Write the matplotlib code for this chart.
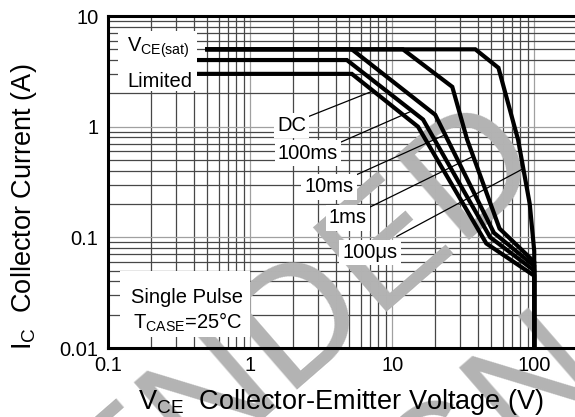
import numpy as np
import matplotlib.pyplot as plt
from matplotlib.patches import Rectangle
from matplotlib.ticker import LogLocator, NullFormatter

plt.rcParams['font.family'] = ['Liberation Sans', 'DejaVu Sans']
plt.rcParams['mathtext.fontset'] = 'custom'
plt.rcParams['mathtext.rm'] = 'Liberation Sans'
plt.rcParams['mathtext.it'] = 'Liberation Sans:italic'
plt.rcParams['mathtext.default'] = 'regular'

# safe operating area corners, collector-emitter voltage (V) / collector current (A)
dc_v = [0.42, 5.2, 15.2, 46, 100, 100]
dc_i = [3, 3, 1.0, 0.088, 0.045, 0.01]
ms100_v = [0.42, 4.8, 16.5, 49, 100, 100]
ms100_i = [4, 4, 1.16, 0.1, 0.05, 0.01]
ms10_v = [0.5, 5.2, 20.1, 52, 100, 100]
ms10_i = [5, 5, 1.28, 0.11, 0.055, 0.01]
ms1_v = [0.5, 11.9, 26.5, 33.7, 57, 100, 100]
ms1_i = [5, 5, 2.29, 0.765, 0.12, 0.06, 0.01]
us100_v = [0.5, 38.5, 56, 77, 93, 100, 100]
us100_i = [5, 5, 3.4, 0.76, 0.2, 0.075, 0.01]

curve_names = ['DC', '100ms', '10ms', '1ms', '100\u03bcs']
# voltage where each label's leader touches its curve
leader_v = [7.35, 13.8, 23.6, 37.2, 83.8]

x_ticks = [0.1, 1, 10, 100]
x_tick_labels = ['0.1', '1', '10', '100']
y_ticks = [0.01, 0.1, 1, 10]
y_tick_labels = ['0.01', '0.1', '1', '10']


def on_curve(vs, cs, v):
    # log-log interpolation along the monotonic part of a curve
    lv = np.log10(vs[:-1])
    lc = np.log10(cs[:-1])
    return 10 ** np.interp(np.log10(v), lv, lc)


fig = plt.figure(figsize=(5.75, 4.17), dpi=100)
ax = fig.add_axes([108 / 575, 69 / 417, 469 / 575, 332 / 417])
ax.set_xscale('log')
ax.set_yscale('log')
ax.set_xlim(0.1, 200)
ax.set_ylim(0.01, 10)

ax.set_xticks(x_ticks)
ax.set_xticklabels(x_tick_labels)
ax.set_yticks(y_ticks)
ax.set_yticklabels(y_tick_labels)
for axis in (ax.xaxis, ax.yaxis):
    axis.set_minor_locator(LogLocator(base=10, subs=np.arange(2, 10)))
    axis.set_minor_formatter(NullFormatter())
ax.tick_params(which='both', length=0, labelsize=14.5)
ax.tick_params(axis='x', pad=6)
ax.tick_params(axis='y', pad=7)

ax.set_axisbelow(True)
ax.grid(True, which='minor', color='#474747', lw=0.9)
ax.grid(True, which='major', color='#a0a0a0', lw=0.9)
for s in ['left', 'top', 'bottom']:
    ax.spines[s].set_linewidth(2.2)
ax.spines['right'].set_visible(False)

# watermark
wm = dict(transform=fig.transFigure, clip_on=False, zorder=1, color='#b3b3b3',
          fontsize=118, rotation=41, rotation_mode='anchor', va='baseline', ha='right')
ax.text(0.955, 0.590, 'NOT RECOMMENDED', **wm)
ax.text(1.065, 0.080, 'FOR NEW DESIGN', **wm)

curves = [(dc_v, dc_i), (ms100_v, ms100_i), (ms10_v, ms10_i),
          (ms1_v, ms1_i), (us100_v, us100_i)]
for vs, cs in curves:
    ax.plot(vs, cs, color='black', lw=3, solid_joinstyle='miter', zorder=3)

# labels with leaders
label_pos = [(0.392, 0.669), (0.4264, 0.5873), (0.4712, 0.485),
             (0.5117, 0.3916), (0.5586, 0.289)]
leader_start = [(2.56, 1.23), (4.3, 0.72), (5.67, 0.37), (6.88, 0.186), (10.8, 0.102)]
for (vs, cs), name, lv, (tx, ty), (sx, sy) in zip(curves, curve_names, leader_v,
                                                   label_pos, leader_start):
    ax.plot([sx, lv], [sy, on_curve(vs, cs, lv)], color='black', lw=0.9, zorder=2.6)
    ax.text(tx, ty, name, transform=ax.transAxes, fontsize=14.5, ha='center', va='center',
            zorder=5, bbox=dict(boxstyle='square,pad=0.15', facecolor='white', edgecolor='none'))

# VCE(sat) limited note
ax.add_patch(Rectangle((0.0213, 0.774), 0.1685, 0.181, transform=ax.transAxes,
                       facecolor='white', edgecolor='none', zorder=4))
ax.text(0.0405, 0.8916, '$V_{CE(sat)}$', transform=ax.transAxes, fontsize=14.5,
        ha='left', va='baseline', zorder=5)
ax.text(0.0405, 0.786, 'Limited', transform=ax.transAxes, fontsize=14.5,
        ha='left', va='baseline', zorder=5)

# test conditions
ax.add_patch(Rectangle((0.0256, 0.033), 0.2772, 0.1988, transform=ax.transAxes,
                       facecolor='white', edgecolor='none', zorder=4))
ax.text(0.1695, 0.1355, 'Single Pulse', transform=ax.transAxes, fontsize=14.5,
        ha='center', va='baseline', zorder=5)
ax.text(0.1695, 0.0572, '$T_{CASE}$=25\u00b0C', transform=ax.transAxes, fontsize=14.5,
        ha='center', va='baseline', zorder=5)

fig.text(341 / 575, 1 - 409 / 417, '$V_{CE}$  Collector-Emitter Voltage (V)',
         fontsize=19.5, ha='center', va='baseline')
fig.text(24 / 575, 1 - 207 / 417, '$I_C$  Collector Current (A)',
         fontsize=19.5, ha='center', va='center', rotation=90)

fig.savefig('out.png', dpi=100)
